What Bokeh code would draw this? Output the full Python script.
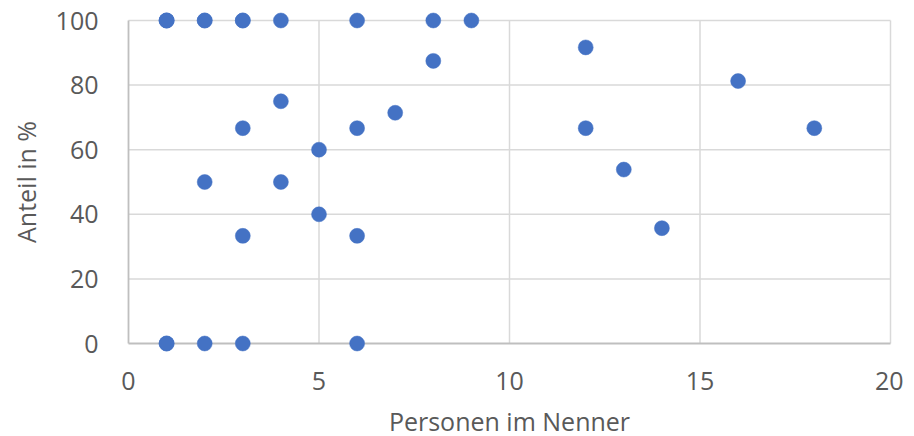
from bokeh.plotting import figure
from bokeh.models import Range1d, FixedTicker
from bokeh.embed import file_html
from bokeh.resources import INLINE

# Data
personen = [1, 1, 1, 2, 2, 3, 3, 4, 6, 8, 9,
            12, 8, 16, 4, 7, 3, 6, 12, 18, 5, 13, 2, 4, 5, 14, 3, 6,
            1, 1, 2, 3, 6]
anteil = [100, 100, 100, 100, 100, 100, 100, 100, 100, 100, 100,
          91.67, 87.5, 81.25, 75, 71.43, 66.67, 66.67, 66.67, 66.67, 60, 53.85, 50, 50, 40, 35.71, 33.33, 33.33,
          0, 0, 0, 0, 0]

x_ticks = [0, 5, 10, 15, 20]
y_ticks = [0, 20, 40, 60, 80, 100]
x_title = "Personen im Nenner"
y_title = "Anteil in %"

FONT = "Open Sans"
TXT = "#595959"
GRID = "#d9d9d9"
AXIS = "#bfbfbf"
DOT = "#4472C4"

# layout (pixels)
fw, fh = 762, 323          # span of 0..20 and 0..100
padx, pady = 3, 10
xs = fw / (x_ticks[-1] - x_ticks[0])
ys = fh / (y_ticks[-1] - y_ticks[0])

p = figure(
    frame_width=fw + 2 * padx, frame_height=fh + 2 * pady,
    x_range=Range1d(x_ticks[0] - padx / xs, x_ticks[-1] + padx / xs),
    y_range=Range1d(y_ticks[0] - pady / ys, y_ticks[-1] + pady / ys),
    output_backend="svg", toolbar_location=None,
    min_border_left=125, min_border_top=10, min_border_right=10, min_border_bottom=75,
)
p.outline_line_color = None
p.grid.visible = False
p.background_fill_color = "white"
p.border_fill_color = "white"

# grid lines from tick arrays
p.segment(x0=x_ticks[1:], x1=x_ticks[1:], y0=[y_ticks[0]] * (len(x_ticks) - 1),
          y1=[y_ticks[-1]] * (len(x_ticks) - 1), line_color=GRID, line_width=1.5)
p.segment(x0=[x_ticks[0]] * (len(y_ticks) - 1), x1=[x_ticks[-1]] * (len(y_ticks) - 1),
          y0=y_ticks[1:], y1=y_ticks[1:], line_color=GRID, line_width=1.5)
# axis lines
p.segment(x0=[x_ticks[0]], x1=[x_ticks[0]], y0=[y_ticks[0]], y1=[y_ticks[-1]],
          line_color=AXIS, line_width=1.8)
p.segment(x0=[x_ticks[0]], x1=[x_ticks[-1]], y0=[y_ticks[0]], y1=[y_ticks[0]],
          line_color=AXIS, line_width=1.8)

p.scatter(personen, anteil, size=15, fill_color=DOT, line_color=DOT, line_width=0.5)

for ax in (p.xaxis[0], p.yaxis[0]):
    ax.axis_line_color = None
    ax.major_tick_line_color = None
    ax.minor_tick_line_color = None
    ax.major_tick_out = 0
    ax.major_tick_in = 0
    ax.major_label_text_font = FONT
    ax.major_label_text_font_size = "25px"
    ax.major_label_text_color = TXT
    ax.axis_label_text_font = FONT
    ax.axis_label_text_font_size = "25px"
    ax.axis_label_text_color = TXT
    ax.axis_label_text_font_style = "normal"

p.xaxis[0].ticker = FixedTicker(ticks=x_ticks)
p.yaxis[0].ticker = FixedTicker(ticks=y_ticks)
p.xaxis[0].axis_label = x_title
p.yaxis[0].axis_label = y_title
p.xaxis[0].major_label_standoff = 18
p.yaxis[0].major_label_standoff = 27
p.xaxis[0].axis_label_standoff = 11
p.yaxis[0].axis_label_standoff = 10

open("out.html", "w").write(file_html(p, INLINE))
